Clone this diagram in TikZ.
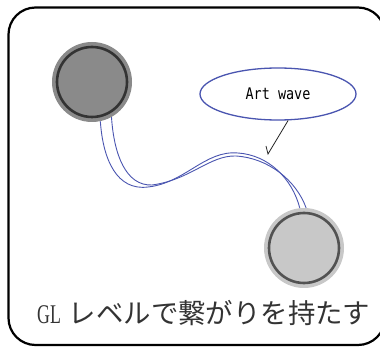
\documentclass[tikz,border=0pt]{standalone}
\usepackage{fontspec}
\usetikzlibrary{shapes.geometric}
\newfontfamily\cjk{Noto Sans CJK JP}
\newfontfamily\monofnt[FakeStretch=0.84]{DejaVu Sans Mono}
\newfontfamily\serifnt{Liberation Serif}
\definecolor{wave}{HTML}{4A55B0}
\definecolor{darkdisk}{HTML}{8A8A8A}
\definecolor{lightdisk}{HTML}{C8C8C8}
\definecolor{txt}{HTML}{333333}
\tikzset{
  frame/.style={draw=black, line width=2.2pt, rounded corners=27pt},
  disk/.style={circle, minimum size=80pt, inner sep=0pt, draw=none},
  ring/.style={line width=2.6pt},
  wavel/.style={draw=wave, line width=0.9pt},
  bubble/.style={ellipse, draw=wave, line width=1.3pt, minimum width=156pt, minimum height=52pt, inner sep=0pt},
  callout/.style={draw=black!85, line width=0.8pt}
}
\begin{document}
\begin{tikzpicture}[x=1pt, y=-1pt]
\useasboundingbox (0,0) rectangle (380,347);
\clip (0,0) rectangle (380,347);
\draw[frame] (8.5,7.5) rectangle (385,345);
% disks
\node[disk, fill=darkdisk] (c1) at (92,82) {};
\draw[ring, draw=black!80] (c1.center) circle (35pt);
\node[disk, fill=lightdisk] (c2) at (304,248) {};
\draw[ring, draw=black!68] (c2.center) circle (35pt);
% wave
\draw[wavel] (c1.-78) .. controls (103,160) and (117,191) .. (148,187)
  .. controls (185,183) and (205,150) .. (238,153)
  .. controls (268,155) and (292,178) .. (c2.96);
\draw[wavel] (c1.-61) .. controls (114,155) and (126,186) .. (152,185)
  .. controls (190,180) and (210,155) .. (236,156)
  .. controls (268,158) and (296,180) .. (c2.87);
% bubble
\node[bubble] (ell) at (278,94) {\monofnt\fontsize{16}{16}\selectfont Art wave};
\coordinate (tip) at (268,154);
\coordinate (tick) at (266,146);
\draw[callout] (ell.-69) -- (tip) -- (tick);
% caption
\node[anchor=base west, inner sep=0pt, text=txt] (cap) at (37,323)
  {{\serifnt\fontsize{27}{27}\selectfont\scalebox{0.66}[1]{GL}}\hspace{8pt}{\cjk\fontsize{27.4}{28}\selectfont レベルで繋がりを持たす}};
\end{tikzpicture}
\end{document}
